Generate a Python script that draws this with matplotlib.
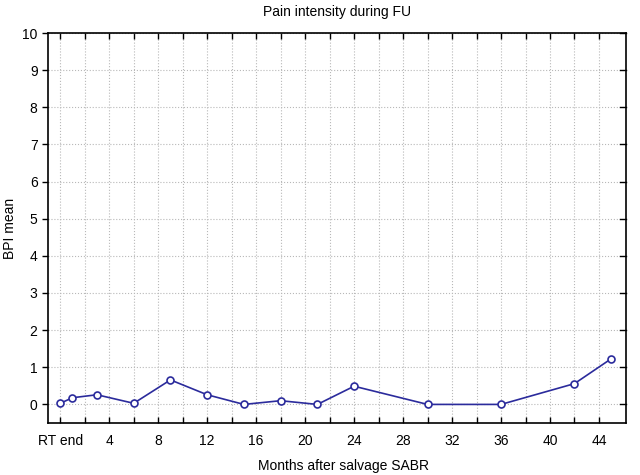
import numpy as np
import matplotlib
matplotlib.use("Agg")
import matplotlib.pyplot as plt

# Datos
months = [0, 1, 3, 6, 9, 12, 15, 18, 21, 24, 30, 36, 42, 45]
bpi_mean = [0.03, 0.18, 0.26, 0.03, 0.66, 0.26, 0.0, 0.1, 0.0, 0.49, 0.0, 0.0, 0.56, 1.23]
x_ticks = [0, 4, 8, 12, 16, 20, 24, 28, 32, 36, 40, 44]
x_labels = ["RT end", "4", "8", "12", "16", "20", "24", "28", "32", "36", "40", "44"]
y_ticks = list(range(0, 11))

plt.rcParams['font.family'] = ['Liberation Sans', 'DejaVu Sans']

fig = plt.figure(figsize=(6.4, 4.75), dpi=100)
ax = fig.add_axes([0.075, 0.1095, 0.903, 0.821])

ax.plot(months, bpi_mean, color='#2b2b9c', lw=1.2, marker='o', ms=5,
        mfc='white', mec='#2b2b9c', mew=1.2, zorder=3)

ax.set_xlim(-1, 46.2)
ax.set_ylim(-0.5, 10)
ax.set_xticks(x_ticks)
ax.set_xticklabels(x_labels)
ax.set_xticks(np.arange(2, 46, 4), minor=True)
ax.set_yticks(y_ticks)

ax.grid(True, which='both', axis='x', color='#b8b8b8', ls=':', lw=0.8)
ax.grid(True, which='major', axis='y', color='#b8b8b8', ls=':', lw=0.8)

ax.tick_params(axis='x', which='both', direction='in', top=True, length=4,
               labelsize=10, pad=8, width=1)
ax.tick_params(axis='y', which='both', direction='out', right=False, length=4,
               labelsize=10, width=1)
for y in y_ticks:
    ax.plot([46.2 - 0.45, 46.2], [y, y], color='black', lw=1, clip_on=False)

for s in ax.spines.values():
    s.set_linewidth(1.2)

ax.set_title('Pain intensity during FU', fontsize=10, pad=12)
ax.set_xlabel('Months after salvage SABR', fontsize=10, labelpad=8, x=0.512)
ax.set_ylabel('BPI mean', fontsize=10, labelpad=4)

fig.savefig('out.png', dpi=100)
